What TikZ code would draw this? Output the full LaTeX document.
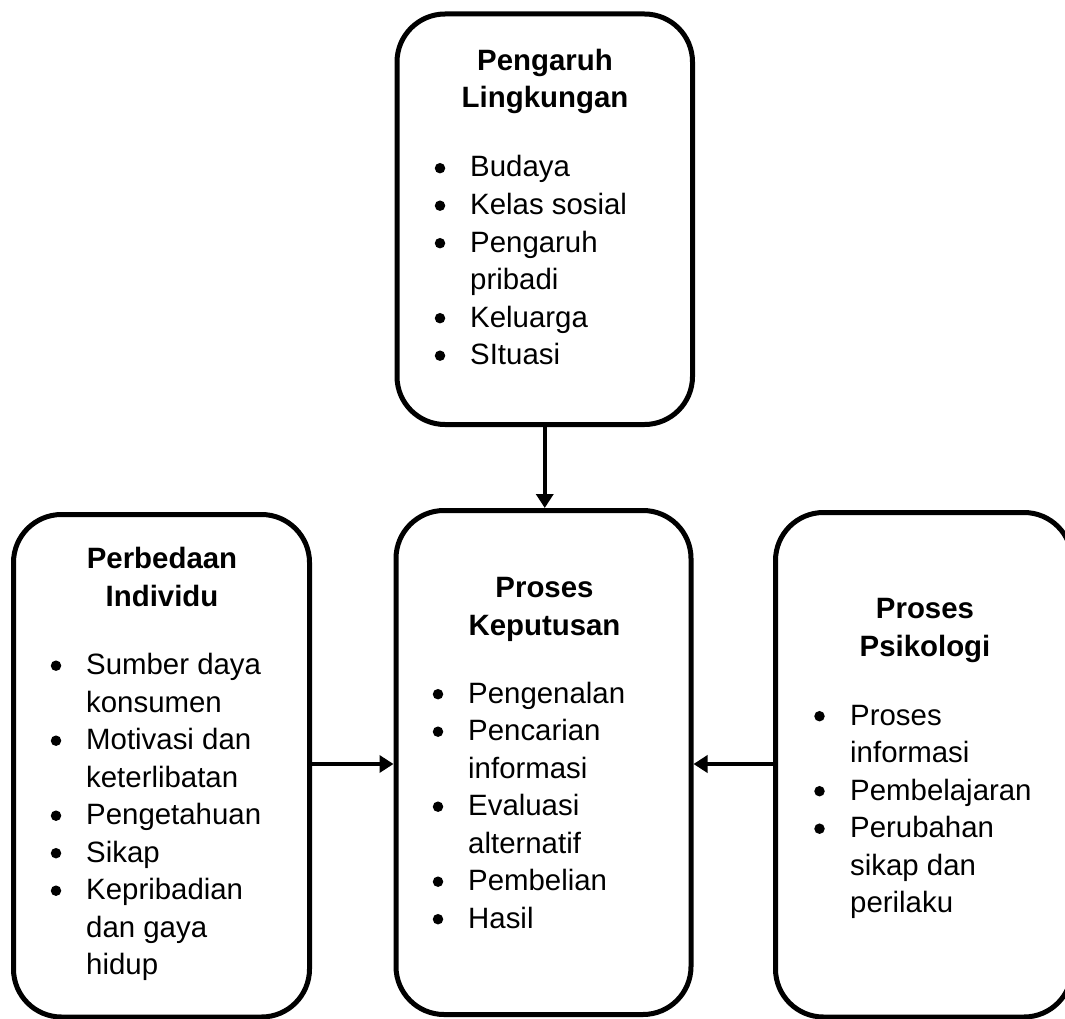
\documentclass[tikz,border=0pt]{standalone}
\usepackage{fontspec}
\setmainfont{Liberation Sans}
\usetikzlibrary{arrows.meta}
\tikzset{
  boxnode/.style={draw=black, line width=5pt, rounded corners=48pt, rectangle, inner sep=0pt},
  txt/.style={font=\fontsize{29.4}{37.5}\selectfont, anchor=base west, inner sep=0pt},
  ttl/.style={font=\fontsize{29.4}{37.5}\selectfont\bfseries, anchor=base, inner sep=0pt},
  bul/.style={circle, fill=black, minimum size=10.5pt, inner sep=0pt, yshift=8.8pt},
  arr/.style={line width=3.6pt, -{Triangle[width=17pt,length=14pt]}}
}
\begin{document}
\begin{tikzpicture}[x=1pt,y=-1pt]
\useasboundingbox (0,0) rectangle (1065,1019);
\fill[white] (0,0) rectangle (1065,1019);
\clip (0,0) rectangle (1065,1019);
% boxes
\node[boxnode, minimum width=295.5pt, minimum height=410.5pt] (top) at (544.75,219.25) {};
\node[boxnode, minimum width=296pt, minimum height=502.5pt] (left) at (161.5,765.75) {};
\node[boxnode, minimum width=295pt, minimum height=504pt] (center) at (543.5,762.5) {};
\node[boxnode, minimum width=296.5pt, minimum height=504.5pt] (right) at (923.75,764.75) {};
% connectors
\coordinate (hy) at (0,764);
\draw[arr] (top.south) -- (top.south |- center.north);
\draw[arr] (left.east |- hy) -- (center.west |- hy);
\draw[arr] (right.west |- hy) -- (center.east |- hy);
% top box text
\node[ttl] (t1) at (545,70.5) {Pengaruh};
\node[ttl] (t2) at (545,108) {Lingkungan};
\node[bul] (tb1) at (440,177) {};
\node[txt] (tx1) at (470,177) {Budaya};
\node[bul] (tb2) at (440,214.5) {};
\node[txt] (tx2) at (470,214.5) {Kelas sosial};
\node[bul] (tb3) at (440,252) {};
\node[txt] (tx3) at (470,252) {Pengaruh};
\node[txt] (tx4) at (470,289.5) {pribadi};
\node[bul] (tb5) at (440,327) {};
\node[txt] (tx5) at (470,327) {Keluarga};
\node[bul] (tb6) at (440,364.5) {};
\node[txt] (tx6) at (470,364.5) {SItuasi};
% left box text
\node[ttl] (l1) at (162,568) {Perbedaan};
\node[ttl] (l2) at (162,606) {Individu};
\node[bul] (lb1) at (56,674.5) {};
\node[txt] (lx1) at (86,674.5) {Sumber daya};
\node[txt] (lx2) at (86,712) {konsumen};
\node[bul] (lb3) at (56,749.5) {};
\node[txt] (lx3) at (86,749.5) {Motivasi dan};
\node[txt] (lx4) at (86,787) {keterlibatan};
\node[bul] (lb5) at (56,824.5) {};
\node[txt] (lx5) at (86,824.5) {Pengetahuan};
\node[bul] (lb6) at (56,862) {};
\node[txt] (lx6) at (86,862) {Sikap};
\node[bul] (lb7) at (56,899.5) {};
\node[txt] (lx7) at (86,899.5) {Kepribadian};
\node[txt] (lx8) at (86,937) {dan gaya};
\node[txt] (lx9) at (86,974.5) {hidup};
% center box text
\node[ttl] (c1) at (544.5,597) {Proses};
\node[ttl] (c2) at (544.5,635) {Keputusan};
\node[bul] (cb1) at (438,703) {};
\node[txt] (cx1) at (468,703) {Pengenalan};
\node[bul] (cb2) at (438,740.5) {};
\node[txt] (cx2) at (468,740.5) {Pencarian};
\node[txt] (cx3) at (468,778) {informasi};
\node[bul] (cb4) at (438,815.5) {};
\node[txt] (cx4) at (468,815.5) {Evaluasi};
\node[txt] (cx5) at (468,853) {alternatif};
\node[bul] (cb6) at (438,890.5) {};
\node[txt] (cx6) at (468,890.5) {Pembelian};
\node[bul] (cb7) at (438,928) {};
\node[txt] (cx7) at (468,928) {Hasil};
% right box text
\node[ttl] (r1) at (925,618) {Proses};
\node[ttl] (r2) at (925,656.5) {Psikologi};
\node[bul] (rb1) at (819.5,725) {};
\node[txt] (rx1) at (850,725) {Proses};
\node[txt] (rx2) at (850,762.5) {informasi};
\node[bul] (rb3) at (819.5,800) {};
\node[txt] (rx3) at (850,800) {Pembelajaran};
\node[bul] (rb4) at (819.5,837.5) {};
\node[txt] (rx4) at (850,837.5) {Perubahan};
\node[txt] (rx5) at (850,875) {sikap dan};
\node[txt] (rx6) at (850,912.5) {perilaku};
\end{tikzpicture}
\end{document}
